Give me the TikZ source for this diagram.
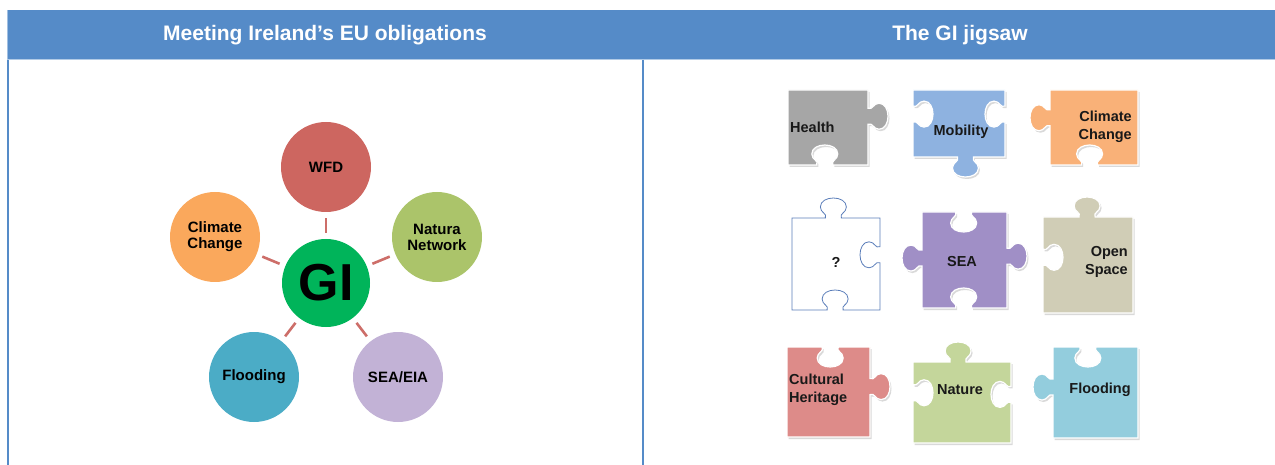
\documentclass[tikz,border=0pt]{standalone}
\usepackage{fontspec}
\setmainfont{Liberation Sans}

\definecolor{hdrblue}{RGB}{85,139,200}
\definecolor{cgreen}{RGB}{0,180,90}
\definecolor{cred}{RGB}{205,102,96}
\definecolor{colive}{RGB}{171,196,106}
\definecolor{corange}{RGB}{250,168,92}
\definecolor{cteal}{RGB}{75,172,198}
\definecolor{clilac}{RGB}{194,178,214}
\definecolor{linkred}{RGB}{205,110,105}
\definecolor{pzgray}{RGB}{166,166,166}
\definecolor{pzblue}{RGB}{142,178,224}
\definecolor{pzorange}{RGB}{249,177,120}
\definecolor{pzpurple}{RGB}{160,143,198}
\definecolor{pzbeige}{RGB}{208,205,182}
\definecolor{pzpink}{RGB}{221,139,137}
\definecolor{pzgreen}{RGB}{196,214,155}
\definecolor{pzcyan}{RGB}{147,205,221}
\definecolor{qblue}{RGB}{90,125,185}

% ---- jigsaw piece builder -------------------------------------------
% knob geometry: neck half width, head half width, knob height
\def\pza{8}\def\pzr{13}\def\pzh{20}
\newif\ifpzshadow \pzshadowtrue
\newcommand\pzadd[1]{\xdef\pzpath{\pzpath #1}}
\newcommand\pzpt[2]{%
  \pgfmathsetmacro\pzX{\pzox+(#1)*\pzdx+(#2)*\pznx}%
  \pgfmathsetmacro\pzY{\pzoy+(#1)*\pzdy+(#2)*\pzny}%
  \pzadd{(\pzX,\pzY)}}
\newcommand\pzsetedge[6]{\def\pzox{#1}\def\pzoy{#2}\def\pzdx{#3}\def\pzdy{#4}\def\pznx{#5}\def\pzny{#6}}
% #1 sign (1 knob, -1 notch, 0 flat), #2 centre along edge, #3 edge length
\newcommand\pzedge[3]{%
  \ifnum#1=0 \else
    \pgfmathsetmacro\pzc{#2}%
    \pzadd{ -- }\pzpt{\pzc-\pza}{0}%
    \pzadd{ .. controls }\pzpt{\pzc-\pza+2}{#1*0.25*\pzh}\pzadd{ and }\pzpt{\pzc-\pzr}{#1*0.25*\pzh}\pzadd{ .. }\pzpt{\pzc-\pzr}{#1*0.55*\pzh}%
    \pzadd{ .. controls }\pzpt{\pzc-\pzr}{#1*0.85*\pzh}\pzadd{ and }\pzpt{\pzc-0.5*\pzr}{#1*\pzh}\pzadd{ .. }\pzpt{\pzc}{#1*\pzh}%
    \pzadd{ .. controls }\pzpt{\pzc+0.5*\pzr}{#1*\pzh}\pzadd{ and }\pzpt{\pzc+\pzr}{#1*0.85*\pzh}\pzadd{ .. }\pzpt{\pzc+\pzr}{#1*0.55*\pzh}%
    \pzadd{ .. controls }\pzpt{\pzc+\pzr}{#1*0.25*\pzh}\pzadd{ and }\pzpt{\pzc+\pza-2}{#1*0.25*\pzh}\pzadd{ .. }\pzpt{\pzc+\pza}{0}%
  \fi
  \pzadd{ -- }\pzpt{#3}{0}}
\def\pzparse#1/#2\pzend{\def\pzs{#1}\def\pzf{#2}}
% \jigpiece{x}{y}{w}{h}{top}{right}{bottom}{left}{style}; edge = sign/fraction
\newcommand\jigpiece[9]{%
  \xdef\pzpath{(#1,#2)}%
  \pzsetedge{#1}{#2}{1}{0}{0}{-1}\pzparse#5\pzend
  \pzedge{\pzs}{\pzf*#3}{#3}%
  \pzsetedge{#1+#3}{#2}{0}{1}{1}{0}\pzparse#6\pzend
  \pzedge{\pzs}{\pzf*#4}{#4}%
  \pzsetedge{#1+#3}{#2+#4}{-1}{0}{0}{1}\pzparse#7\pzend
  \pzedge{\pzs}{(1-\pzf)*#3}{#3}%
  \pzsetedge{#1}{#2+#4}{0}{-1}{-1}{0}\pzparse#8\pzend
  \pzedge{\pzs}{(1-\pzf)*#4}{#4}%
  \pzadd{ -- cycle}%
  \ifpzshadow\fill[pzshade] \pzpath;\fi
  \filldraw[pzbody,#9] \pzpath;}

\begin{document}
\begin{tikzpicture}[x=1pt,y=-1pt,
  hdrtext/.style={text=white, inner sep=0pt, font=\fontsize{21}{24}\selectfont\bfseries},
  bubble/.style={circle, minimum size=90pt, inner sep=0pt, align=center,
    font=\fontsize{15}{16}\selectfont\bfseries, text=black},
  link/.style={draw=linkred, line width=2.6pt, shorten <=6pt, shorten >=6pt},
  pzlabel/.style={font=\fontsize{14.5}{18}\selectfont\bfseries, text=black!90, inner sep=0pt},
  pzshade/.style={fill=black!15, xshift=1.5pt, yshift=-2pt},
  pzbody/.style={draw=white, line width=1.2pt},
]
\useasboundingbox (0,0) rectangle (1275,465);

% header band and frame
\fill[hdrblue] (7,10) rectangle (1275,59);
\draw[hdrblue!45, line width=1pt] (7,59.5) -- (1275,59.5);
\draw[hdrblue!55, line width=1pt] (7.5,10) -- (7.5,59);
\draw[hdrblue, line width=1.5pt] (8.2,60) -- (8.2,465);
\draw[hdrblue, line width=2pt] (643,60) -- (643,465);
\node[hdrtext] (title1) at (325,35) {Meeting Ireland’s EU obligations};
\node[hdrtext] (title2) at (960,35) {The GI jigsaw};

% GI hub with its five obligations
\node[bubble, minimum size=88pt, fill=cgreen, font=\fontsize{52}{52}\selectfont\bfseries] (gi) at (326,283) {GI};
\node[bubble, fill=cred] (wfd) at (326,167) {WFD};
\node[bubble, fill=colive] (natura) at (437,237) {Natura\\Network};
\node[bubble, fill=corange] (climate) at (215,237) {Climate\\Change};
\node[bubble, fill=cteal] (flood) at (254,377) {Flooding};
\node[bubble, fill=clilac] (sea) at (398,377) {SEA/EIA};
\foreach \t in {wfd,natura,climate,flood,sea}
  \draw[link] (gi) -- (\t);

% jigsaw pieces
\jigpiece{788}{90}{80}{75}{0/.5}{1/.35}{-1/.46}{0/.5}{fill=pzgray}
\jigpiece{913}{90}{92}{67}{0/.5}{-1/.36}{1/.57}{-1/.36}{fill=pzblue}
\jigpiece{1050}{90}{88}{75}{0/.5}{0/.5}{-1/.45}{1/.37}{fill=pzorange}
\pzshadowfalse
\jigpiece{792}{218}{88}{92}{1/.47}{-1/.4}{-1/.49}{0/.5}{fill=white, draw=qblue, line width=0.8pt}
\pzshadowtrue
\jigpiece{922}{212}{85}{96}{-1/.49}{1/.46}{-1/.49}{1/.48}{fill=pzpurple}
\jigpiece{1043}{217}{90}{96}{1/.49}{0/.5}{0/.5}{-1/.42}{fill=pzbeige}
\jigpiece{787}{347}{83}{90}{-1/.52}{1/.44}{0/.5}{0/.5}{fill=pzpink}
\jigpiece{913}{362}{98}{81}{1/.46}{-1/.4}{0/.5}{-1/.38}{fill=pzgreen}
\jigpiece{1053}{347}{85}{91}{-1/.41}{0/.5}{0/.5}{1/.44}{fill=pzcyan}

% piece labels
\node[pzlabel, anchor=west] (health) at (790,127) {Health};
\node[pzlabel] (mobility) at (961,132) {Mobility};
\node[pzlabel, anchor=east, align=right] (climatepz) at (1132,127) {Climate\\Change};
\node[pzlabel] (unknown) at (836,262) {?};
\node[pzlabel] (seapz) at (962,262) {SEA};
\node[pzlabel, anchor=east, align=right] (open) at (1128,262) {Open\\Space};
\node[pzlabel, anchor=west, align=left] (heritage) at (789,390) {Cultural\\Heritage};
\node[pzlabel] (nature) at (960,390) {Nature};
\node[pzlabel] (floodpz) at (1100,390) {Flooding};
\end{tikzpicture}
\end{document}
